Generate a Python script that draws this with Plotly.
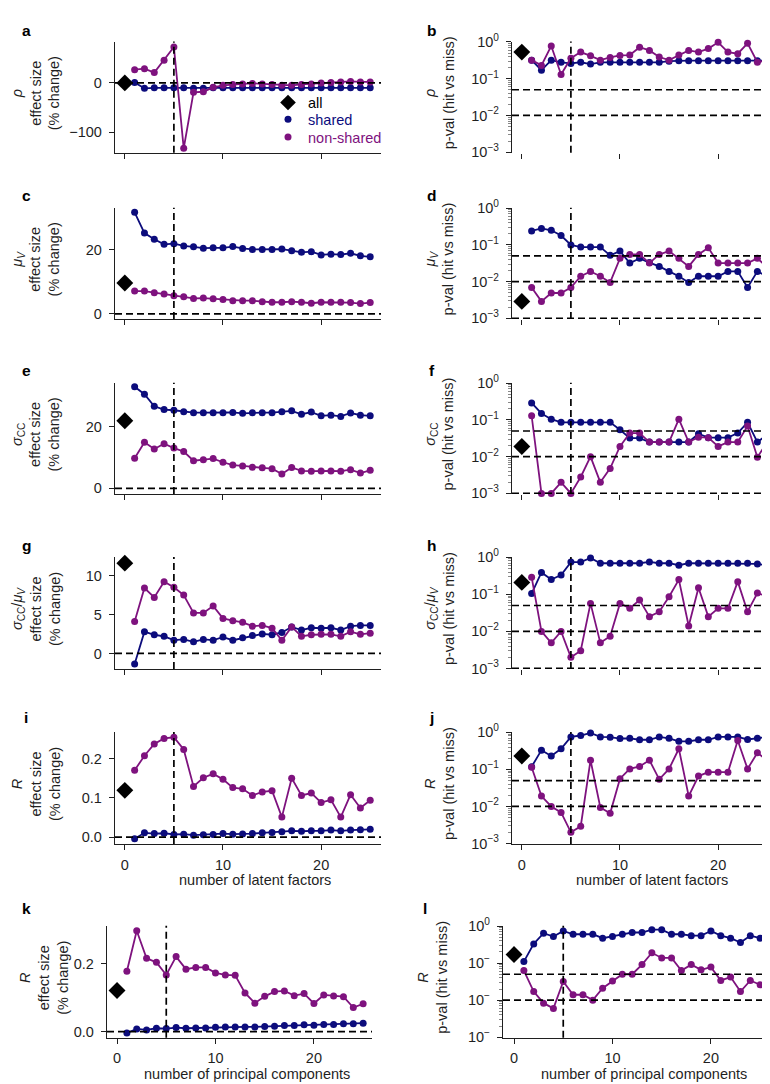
import plotly.graph_objects as go

W, H = 770, 1084
BLUE = "#0c0c7c"
PURPLE = "#7e127e"
INK = "#1f1f1f"
FONT = "Liberation Sans, Arial, sans-serif"
FS = 14.5

# x axis: number of latent factors / principal components (0 = "all")
n_dims = [1, 2, 3, 4, 5, 6, 7, 8, 9, 10, 11, 12, 13, 14, 15, 16, 17, 18, 19, 20, 21, 22, 23, 24, 25]
x_all = [0]

# a: rho effect size (% change)
rho_eff_all = [0]
rho_eff_shared = [1, -11, -10, -10, -10, -10, -11, -11, -10, -10, -10, -10, -10, -10, -10, -10, -10, -10, -10, -10, -10, -10, -10, -10, -10]
rho_eff_non = [27, 29, 21, 46, 73, -133, -19, -18, -9, -5, -3, -2, -1, -2, -3, -5, -5, -3, -2, 0, 1, 2, 3, 2, 2]

# b: rho p-value
rho_p_all = [0.53]
rho_p_shared = [0.32, 0.17, 0.32, 0.28, 0.26, 0.28, 0.25, 0.28, 0.28, 0.28, 0.28, 0.28, 0.28, 0.28, 0.30, 0.31, 0.31, 0.31, 0.31, 0.31, 0.31, 0.31, 0.31, 0.31, 0.31]
rho_p_non = [0.32, 0.23, 0.78, 0.13, 0.36, 0.53, 0.42, 0.32, 0.38, 0.43, 0.44, 0.72, 0.59, 0.39, 0.32, 0.44, 0.59, 0.53, 0.66, 0.98, 0.53, 0.48, 0.92, 0.28, 0.32]

# c: mu_V effect size
mu_eff_all = [9.6]
mu_eff_shared = [31.7, 25.2, 23.3, 21.7, 21.9, 21.2, 20.9, 20.5, 20.6, 20.6, 21.0, 20.4, 20.1, 20.1, 20.1, 20.2, 19.7, 19.2, 19.4, 18.4, 18.6, 18.5, 18.9, 18.1, 17.8]
mu_eff_non = [7.1, 7.1, 6.6, 6.2, 5.6, 5.3, 4.8, 4.9, 4.7, 4.5, 4.1, 4.1, 4.1, 3.8, 3.6, 3.6, 3.8, 3.6, 3.3, 3.6, 3.6, 3.6, 3.5, 3.2, 3.5]

# d: mu_V p-value
mu_p_all = [0.0029]
mu_p_shared = [0.24, 0.28, 0.25, 0.18, 0.10, 0.087, 0.087, 0.087, 0.052, 0.068, 0.032, 0.043, 0.033, 0.026, 0.019, 0.014, 0.0095, 0.014, 0.014, 0.014, 0.019, 0.019, 0.0069, 0.019, 0.014]
mu_p_non = [0.0069, 0.0029, 0.0049, 0.0049, 0.0069, 0.014, 0.019, 0.014, 0.0095, 0.043, 0.055, 0.055, 0.032, 0.055, 0.068, 0.043, 0.026, 0.055, 0.084, 0.032, 0.032, 0.032, 0.032, 0.043, 0.025]

# e: sigma_CC effect size
sig_eff_all = [22.0]
sig_eff_shared = [33.0, 30.6, 26.7, 25.6, 25.4, 24.9, 24.6, 24.6, 24.6, 24.6, 24.7, 24.4, 24.6, 24.6, 24.6, 24.9, 25.2, 24.1, 24.8, 23.6, 23.8, 23.4, 24.5, 23.8, 23.6]
sig_eff_non = [9.8, 15.0, 12.8, 14.5, 13.1, 12.0, 9.0, 9.3, 9.7, 8.5, 7.6, 7.3, 6.9, 6.7, 6.4, 4.7, 6.8, 5.7, 5.6, 5.7, 5.7, 5.6, 6.1, 5.0, 5.9]

# f: sigma_CC p-value
sig_p_all = [0.019]
sig_p_shared = [0.29, 0.15, 0.105, 0.086, 0.086, 0.086, 0.086, 0.086, 0.086, 0.054, 0.032, 0.032, 0.025, 0.025, 0.025, 0.025, 0.025, 0.042, 0.033, 0.033, 0.033, 0.044, 0.086, 0.025, 0.040]
sig_p_non = [0.13, 0.001, 0.001, 0.002, 0.001, 0.0028, 0.01, 0.002, 0.0048, 0.019, 0.044, 0.044, 0.025, 0.025, 0.025, 0.105, 0.025, 0.034, 0.033, 0.019, 0.025, 0.025, 0.068, 0.0096, 0.025]

# g: sigma_CC / mu_V effect size
ff_eff_all = [11.6]
ff_eff_shared = [-1.35, 2.8, 2.4, 2.2, 1.7, 1.8, 1.5, 1.8, 1.7, 2.1, 1.7, 2.0, 2.3, 2.5, 2.4, 2.7, 3.4, 3.0, 3.3, 3.25, 3.3, 3.0, 3.5, 3.6, 3.6]
ff_eff_non = [4.1, 8.4, 7.2, 9.2, 8.5, 7.5, 5.2, 5.2, 6.1, 4.5, 4.2, 4.0, 3.5, 3.6, 3.25, 1.7, 3.4, 2.2, 2.4, 2.45, 2.45, 2.2, 2.8, 2.45, 2.6]

# h: sigma_CC / mu_V p-value
ff_p_all = [0.21]
ff_p_shared = [0.105, 0.39, 0.25, 0.33, 0.74, 0.74, 0.96, 0.69, 0.69, 0.69, 0.69, 0.69, 0.75, 0.69, 0.69, 0.61, 0.69, 0.69, 0.69, 0.69, 0.69, 0.69, 0.69, 0.66, 0.61]
ff_p_non = [0.29, 0.01, 0.0049, 0.01, 0.0020, 0.0030, 0.057, 0.0049, 0.0074, 0.057, 0.042, 0.070, 0.025, 0.034, 0.086, 0.25, 0.014, 0.15, 0.025, 0.042, 0.042, 0.22, 0.034, 0.108, 0.088]

# i: R effect size (latent factors)
r_eff_all = [0.119]
r_eff_shared = [-0.004, 0.011, 0.009, 0.010, 0.007, 0.0075, 0.005, 0.006, 0.007, 0.009, 0.0075, 0.008, 0.009, 0.011, 0.012, 0.014, 0.016, 0.015, 0.016, 0.016, 0.018, 0.016, 0.018, 0.019, 0.020]
r_eff_non = [0.170, 0.207, 0.237, 0.251, 0.254, 0.223, 0.129, 0.151, 0.161, 0.147, 0.126, 0.123, 0.106, 0.115, 0.118, 0.051, 0.150, 0.106, 0.112, 0.088, 0.095, 0.051, 0.108, 0.074, 0.094]

# j: R p-value (latent factors)
r_p_all = [0.23]
r_p_shared = [0.118, 0.33, 0.23, 0.36, 0.75, 0.82, 0.96, 0.75, 0.74, 0.68, 0.69, 0.63, 0.63, 0.75, 0.69, 0.57, 0.57, 0.63, 0.63, 0.75, 0.75, 0.75, 0.64, 0.69, 0.75]
r_p_non = [0.114, 0.019, 0.010, 0.0069, 0.0020, 0.0029, 0.177, 0.0094, 0.0065, 0.056, 0.103, 0.12, 0.177, 0.054, 0.103, 0.36, 0.019, 0.066, 0.084, 0.084, 0.084, 0.60, 0.103, 0.28, 0.177]

# k: R effect size (principal components)
pc_eff_all = [0.121]
pc_eff_shared = [-0.004, 0.008, 0.005, 0.010, 0.009, 0.012, 0.010, 0.011, 0.011, 0.013, 0.014, 0.014, 0.014, 0.014, 0.015, 0.016, 0.018, 0.018, 0.020, 0.019, 0.021, 0.021, 0.023, 0.023, 0.025]
pc_eff_non = [0.178, 0.297, 0.216, 0.204, 0.167, 0.221, 0.184, 0.189, 0.189, 0.173, 0.167, 0.166, 0.114, 0.084, 0.104, 0.118, 0.120, 0.106, 0.112, 0.083, 0.108, 0.105, 0.103, 0.071, 0.082]

# l: R p-value (principal components)
pc_p_all = [0.17]
pc_p_shared = [0.11, 0.33, 0.64, 0.52, 0.74, 0.60, 0.60, 0.60, 0.47, 0.52, 0.60, 0.67, 0.67, 0.80, 0.80, 0.60, 0.60, 0.55, 0.55, 0.74, 0.55, 0.47, 0.36, 0.55, 0.47]
pc_p_non = [0.063, 0.017, 0.0083, 0.0060, 0.032, 0.014, 0.014, 0.010, 0.021, 0.033, 0.050, 0.050, 0.091, 0.19, 0.138, 0.138, 0.063, 0.091, 0.066, 0.078, 0.034, 0.042, 0.017, 0.034, 0.026]

log_ticks = [0.001, 0.01, 0.1, 1]
log_text = ["10<sup>−3</sup>", "10<sup>−2</sup>", "10<sup>−1</sup>", "10<sup>0</sup>"]
log_text_cut = ["10<sup>−</sup>", "10<sup>−</sup>", "10<sup>−</sup>", "10<sup>0</sup>"]
minor_log = [m * 10 ** e for e in (-3, -2, -1) for m in range(2, 10)]

EFF = "effect size<br>(% change)"
PVAL = "p-val (hit vs miss)"
RHO = "<i>ρ</i>"
MU = "<i>μ</i><sub><i>V</i></sub>"
SIG = "<i>σ</i><sub>CC</sub>"
FF = "<i>σ</i><sub>CC</sub>/<i>μ</i><sub><i>V</i></sub>"
RR = "<i>R</i>"

# pixel boxes
L = (107, 373)
R_ = (504, 770)
rows = [(24, 137), (193, 306), (371, 484), (548, 662), (726, 840), (923, 1037)]
letter_y = [13, 181, 358, 536, 711, 906]

panels = [
    dict(tag="a", box=(L, rows[0]), all=rho_eff_all, sh=rho_eff_shared, ns=rho_eff_non, log=False,
         yr=[-142, 84], yt=[-100, 0], ytt=["−100", "0"], title=RHO + "<br>" + EFF, hl=[0], xline=True),
    dict(tag="b", box=(R_, rows[0]), all=rho_p_all, sh=rho_p_shared, ns=rho_p_non, log=True,
         title=RHO + "<br>" + PVAL, hl=[0.05, 0.01], xline=False),
    dict(tag="c", box=(L, rows[1]), all=mu_eff_all, sh=mu_eff_shared, ns=mu_eff_non, log=False,
         yr=[-1.6, 33.1], yt=[0, 20], ytt=["0", "20"], title=MU + "<br>" + EFF, hl=[0], xline=True),
    dict(tag="d", box=(R_, rows[1]), all=mu_p_all, sh=mu_p_shared, ns=mu_p_non, log=True,
         title=MU + "<br>" + PVAL, hl=[0.05, 0.01, 0.001], xline=False),
    dict(tag="e", box=(L, rows[2]), all=sig_eff_all, sh=sig_eff_shared, ns=sig_eff_non, log=False,
         yr=[-1.8, 34.3], yt=[0, 20], ytt=["0", "20"], title=SIG + "<br>" + EFF, hl=[0], xline=True),
    dict(tag="f", box=(R_, rows[2]), all=sig_p_all, sh=sig_p_shared, ns=sig_p_non, log=True,
         title=SIG + "<br>" + PVAL, hl=[0.05, 0.01, 0.001], xline=False),
    dict(tag="g", box=(L, rows[3]), all=ff_eff_all, sh=ff_eff_shared, ns=ff_eff_non, log=False,
         yr=[-2.0, 12.4], yt=[0, 5, 10], ytt=["0", "5", "10"], title=FF + "<br>" + EFF, hl=[0], xline=True),
    dict(tag="h", box=(R_, rows[3]), all=ff_p_all, sh=ff_p_shared, ns=ff_p_non, log=True,
         title=FF + "<br>" + PVAL, hl=[0.05, 0.01, 0.001], xline=False),
    dict(tag="i", box=(L, rows[4]), all=r_eff_all, sh=r_eff_shared, ns=r_eff_non, log=False,
         yr=[-0.0175, 0.2675], yt=[0, 0.1, 0.2], ytt=["0.0", "0.1", "0.2"], title=RR + "<br>" + EFF, hl=[0],
         xline=True, xlab="number of latent factors"),
    dict(tag="j", box=(R_, rows[4]), all=r_p_all, sh=r_p_shared, ns=r_p_non, log=True,
         title=RR + "<br>" + PVAL, hl=[0.05, 0.01], xline=True, xlab="number of latent factors"),
    dict(tag="k", box=((99, 364), rows[5]), all=pc_eff_all, sh=pc_eff_shared, ns=pc_eff_non, log=False,
         yr=[-0.018, 0.312], yt=[0, 0.2], ytt=["0.0", "0.2"], title=RR + "<br>" + EFF, hl=[0],
         xline=True, xlab="number of principal components", xr=[-1.02, 25.9], tx=36),
    dict(tag="l", box=((495, 762), rows[5]), all=pc_p_all, sh=pc_p_shared, ns=pc_p_non, log=True,
         title=RR + "<br>" + PVAL, hl=[0.05, 0.01], xline=True, xlab="number of principal components",
         xr=[-1.12, 26.0], cut=True, tx=425),
]

fig = go.Figure()
layout = {}
shapes = []
annotations = []

for n, p in enumerate(panels, start=1):
    xa = "x" if n == 1 else f"x{n}"
    ya = "y" if n == 1 else f"y{n}"
    (x0, x1), (y0, y1) = p["box"]
    left = x0 < 300
    row = (n - 1) // 2

    fig.add_trace(go.Scatter(x=n_dims, y=p["sh"], xaxis=xa, yaxis=ya, mode="lines+markers",
                             line=dict(color=BLUE, width=1.8), marker=dict(size=7, color=BLUE),
                             showlegend=False, cliponaxis=False))
    fig.add_trace(go.Scatter(x=n_dims, y=p["ns"], xaxis=xa, yaxis=ya, mode="lines+markers",
                             line=dict(color=PURPLE, width=1.8), marker=dict(size=7, color=PURPLE),
                             showlegend=False, cliponaxis=False))
    fig.add_trace(go.Scatter(x=x_all, y=p["all"], xaxis=xa, yaxis=ya, mode="markers",
                             marker=dict(symbol="diamond", size=13, color="black"),
                             showlegend=False, cliponaxis=False))

    xlab = p.get("xlab")
    layout["xaxis" if n == 1 else f"xaxis{n}"] = dict(
        domain=[x0 / W, x1 / W], range=p.get("xr", [-1.0, 26.1]), anchor=ya,
        showline=p["xline"], linecolor=INK, linewidth=1.3,
        ticks="outside", ticklen=5, tickwidth=1.2, tickcolor=INK, ticklabelstandoff=2,
        tickvals=[0, 10, 20], ticktext=["0", "10", "20"], showticklabels=bool(xlab),
        showgrid=False, zeroline=False, fixedrange=True,
    )
    yax = dict(domain=[1 - y1 / H, 1 - y0 / H], anchor=xa, showline=True, linecolor=INK, linewidth=1.3,
               ticks="outside", ticklen=5, tickwidth=1.2, tickcolor=INK, ticklabelstandoff=4,
               showgrid=False, zeroline=False)
    if p["log"]:
        yax.update(type="log", range=[-3.015, 0.01], tickvals=log_ticks,
                   ticktext=log_text_cut if p.get("cut") else log_text,
                   minor=dict(tickvals=minor_log, ticks="outside", ticklen=2.5, tickcolor="#888", tickwidth=0.8))
    else:
        yax.update(range=p["yr"], tickvals=p["yt"], ticktext=p["ytt"])
    layout["yaxis" if n == 1 else f"yaxis{n}"] = yax

    for v in p["hl"]:
        shapes.append(dict(type="line", xref=f"{xa} domain", x0=0, x1=1, yref=ya, y0=v, y1=v,
                           line=dict(color="black", width=1.7, dash="7px,4px"), layer="above"))
    shapes.append(dict(type="line", xref=xa, x0=5, x1=5, yref=f"{ya} domain", y0=0, y1=1,
                       line=dict(color="black", width=1.7, dash="7px,4px"), layer="above"))

    # panel letter
    lx = 18 if left else (417 if p["tag"] == "l" else 424)
    annotations.append(dict(text=f"<b>{p['tag']}</b>", xref="paper", yref="paper",
                            x=lx / W, y=1 - letter_y[row] / H,
                            xanchor="center", yanchor="middle", showarrow=False,
                            font=dict(size=15.5, color="black", family=FONT)))
    # y title
    tx = p.get("tx", 28 if left else 431)
    annotations.append(dict(text=p["title"], xref="paper", yref="paper", x=tx / W,
                            y=1 - ((y0 + y1) / 2 - 4) / H, textangle=-90, xanchor="center", yanchor="middle",
                            showarrow=False, font=dict(size=FS, color=INK, family=FONT)))
    if xlab:
        annotations.append(dict(text=xlab, xref="paper", yref="paper", x=((x0 + x1) / 2 + 7) / W,
                                y=1 - (y1 + 37) / H, xanchor="center", yanchor="middle", showarrow=False,
                                font=dict(size=FS, color=INK, family=FONT)))

# legend entries for panel a, one legend per entry so each text keeps its colour
leg_items = [("all", "black", "diamond", 12, "legend", 86),
             ("shared", BLUE, "circle", 7, "legend2", 103),
             ("non-shared", PURPLE, "circle", 7, "legend3", 121)]
legends = {}
for name, col, sym, size, lg, ly in leg_items:
    fig.add_trace(go.Scatter(x=[None], y=[None], mode="markers", name=name, legend=lg,
                             marker=dict(symbol=sym, size=size, color=col)))
    legends[lg] = dict(x=260 / W, y=1 - ly / H, xanchor="left", yanchor="middle", bgcolor="rgba(0,0,0,0)",
                       font=dict(size=FS, family=FONT, color=col), itemwidth=30)

fig.update_layout(
    width=W, height=H, margin=dict(l=0, r=0, t=0, b=0),
    paper_bgcolor="white", plot_bgcolor="white",
    font=dict(family=FONT, size=FS, color=INK),
    showlegend=True,
    shapes=shapes, annotations=annotations,
    **legends,
    **layout,
)

fig.write_html("out.html")
